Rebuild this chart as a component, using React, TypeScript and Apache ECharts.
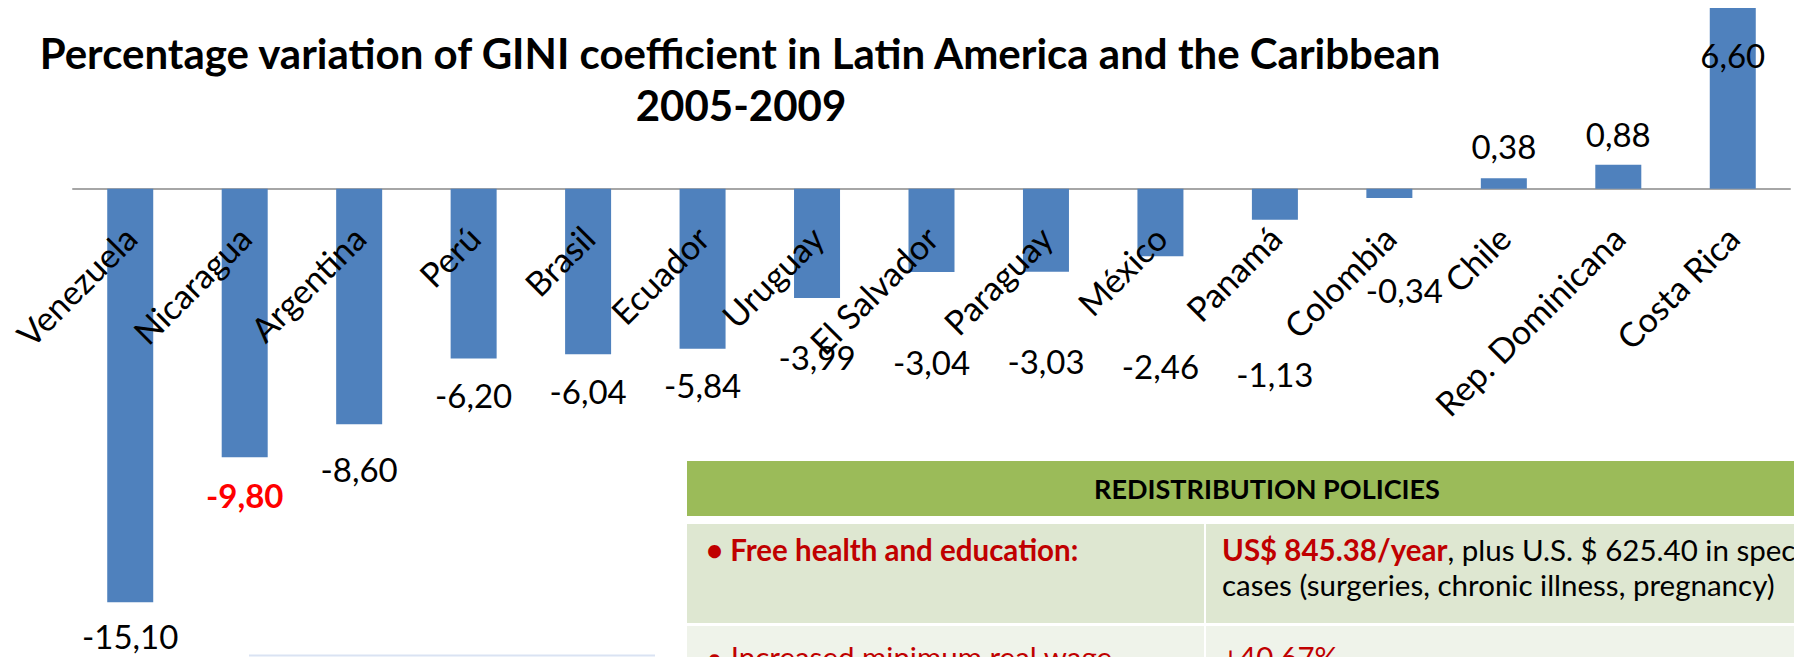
import React, { useEffect, useRef } from "react";
import * as echarts from "echarts";

const categories = [
  "Venezuela", "Nicaragua", "Argentina", "Perú", "Brasil", "Ecuador", "Uruguay",
  "El Salvador", "Paraguay", "México", "Panamá", "Colombia", "Chile",
  "Rep. Dominicana", "Costa Rica",
];
const giniChange = [
  -15.1, -9.8, -8.6, -6.2, -6.04, -5.84, -3.99, -3.04, -3.03, -2.46, -1.13,
  -0.34, 0.38, 0.88, 6.6,
];
const highlighted = "Nicaragua";
// label distance from bar end (style only)
const labelGap = [17.5, 21, 28, 19.5, 20, 20, 42.5, 73, 73, 93.5, 137.5, 75.5, 16, 14.5, 30.5];

const titleLine1 = "Percentage variation of GINI coefficient in Latin America and the Caribbean";
const titleLine2 = "2005-2009";
const tableHeader = "REDISTRIBUTION POLICIES";
const row1Left = "• Free health and education:";
const row1RightStrong = "US$ 845.38/year";
const row1RightRest = ", plus U.S. $ 625.40 in special";
const row1RightLine2 = "cases (surgeries, chronic illness, pregnancy)";
const row2Left = "• Increased minimum real wage";
const row2Right = "+40.67%";

const FONT = "Lato, 'Open Sans', sans-serif";
const fmt = (v: number) => v.toFixed(2).replace(".", ",");

export default function App() {
  const ref = useRef<HTMLDivElement>(null);
  useEffect(() => {
    if (!ref.current) return;
    const chart = echarts.init(ref.current, undefined, { renderer: "svg" });
    const last = giniChange.length - 1;
    const yMin = -16;
    const yMax = 6.6;
    const gridTop = 8;
    const gridH = 619;
    const zeroY = gridTop + (yMax / (yMax - yMin)) * gridH;
    chart.setOption({
      animation: false,
      backgroundColor: "#ffffff",
      grid: [
        { left: 73, right: 4, top: gridTop, height: gridH, containLabel: false, outerBoundsMode: "none" },
        { left: 73, right: 4, top: gridTop, height: zeroY - gridTop, containLabel: false, outerBoundsMode: "none" },
      ],
      xAxis: [
        {
          type: "category",
          gridIndex: 0,
          data: categories,
          axisLine: { onZero: true, lineStyle: { color: "#A6A6A6", width: 2 } },
          axisTick: { show: false },
          axisLabel: { show: false },
        },
        {
          type: "category",
          gridIndex: 1,
          data: categories,
          position: "bottom",
          z: 10,
          axisLine: { show: false },
          axisTick: { show: false },
          axisLabel: {
            interval: 0,
            rotate: 45,
            margin: 43,
            fontSize: 34,
            fontFamily: FONT,
            color: "#000000",
          },
        },
      ],
      yAxis: [
        { type: "value", gridIndex: 0, min: yMin, max: yMax, show: false, splitLine: { show: false } },
        { type: "value", gridIndex: 1, min: 0, max: 1, show: false, splitLine: { show: false } },
      ],
      series: [
        {
          type: "bar",
          xAxisIndex: 0,
          yAxisIndex: 0,
          barWidth: 46,
          itemStyle: { color: "#4F81BD" },
          label: {
            show: true,
            fontSize: 33,
            fontFamily: FONT,
            color: "#000000",
            formatter: (p: any) => fmt(p.value),
          },
          data: giniChange.map((v, i) => {
            const hi = categories[i] === highlighted;
            return {
              value: v,
              label: {
                position: v < 0 ? "bottom" : i === last ? "insideTop" : "top",
                distance: labelGap[i],
                offset: categories[i] === "Colombia" ? [15, 0] : [0, 0],
                color: hi ? "#FF0000" : "#000000",
                fontWeight: hi ? "bold" : "normal",
              },
            };
          }),
        },
      ],
      graphic: [
        {
          type: "text",
          x: 740,
          y: 53,
          style: {
            text: titleLine1,
            align: "center",
            verticalAlign: "middle",
            font: `bold 42px ${FONT}`,
            fill: "#000000",
          },
        },
        {
          type: "text",
          x: 741,
          y: 105,
          style: {
            text: titleLine2,
            align: "center",
            verticalAlign: "middle",
            font: `bold 42px ${FONT}`,
            fill: "#000000",
          },
        },
        { type: "line", shape: { x1: 249, y1: 655.5, x2: 655, y2: 655.5 }, style: { stroke: "#DAE3F3", lineWidth: 2 } },
        { type: "rect", shape: { x: 687, y: 461, width: 1110, height: 55 }, style: { fill: "#9BBB59" } },
        { type: "rect", shape: { x: 687, y: 524, width: 517, height: 99 }, style: { fill: "#DEE7D1" } },
        { type: "rect", shape: { x: 1206, y: 524, width: 590, height: 99 }, style: { fill: "#DEE7D1" } },
        { type: "rect", shape: { x: 687, y: 626, width: 517, height: 40 }, style: { fill: "#EFF3EA" } },
        { type: "rect", shape: { x: 1206, y: 626, width: 590, height: 40 }, style: { fill: "#EFF3EA" } },
        {
          type: "text",
          x: 1267,
          y: 488,
          style: {
            text: tableHeader,
            align: "center",
            verticalAlign: "middle",
            font: `bold 27px ${FONT}`,
            fill: "#000000",
          },
        },
        {
          type: "text",
          x: 706,
          y: 549,
          style: {
            text: row1Left,
            verticalAlign: "middle",
            font: `bold 29.5px ${FONT}`,
            fill: "#C00000",
          },
        },
        {
          type: "text",
          x: 1222,
          y: 549,
          style: {
            text: `{r|${row1RightStrong}}{n|${row1RightRest}}`,
            verticalAlign: "middle",
            rich: {
              r: { fill: "#C00000", fontWeight: "bold", fontSize: 29.5, fontFamily: FONT },
              n: { fill: "#000000", fontWeight: "normal", fontSize: 29.5, fontFamily: FONT },
            },
          },
        },
        {
          type: "text",
          x: 1222,
          y: 584,
          style: {
            text: row1RightLine2,
            verticalAlign: "middle",
            font: `29.5px ${FONT}`,
            fill: "#000000",
          },
        },
        {
          type: "text",
          x: 706,
          y: 656,
          style: {
            text: row2Left,
            verticalAlign: "middle",
            font: `29.5px ${FONT}`,
            fill: "#C00000",
          },
        },
        {
          type: "text",
          x: 1222,
          y: 656,
          style: {
            text: row2Right,
            verticalAlign: "middle",
            font: `29.5px ${FONT}`,
            fill: "#C00000",
          },
        },
      ],
    });
    return () => chart.dispose();
  }, []);
  return (
    <div
      ref={ref}
      style={{ position: "absolute", left: 0, top: 0, width: 1794, height: 657, background: "#fff" }}
    />
  );
}
